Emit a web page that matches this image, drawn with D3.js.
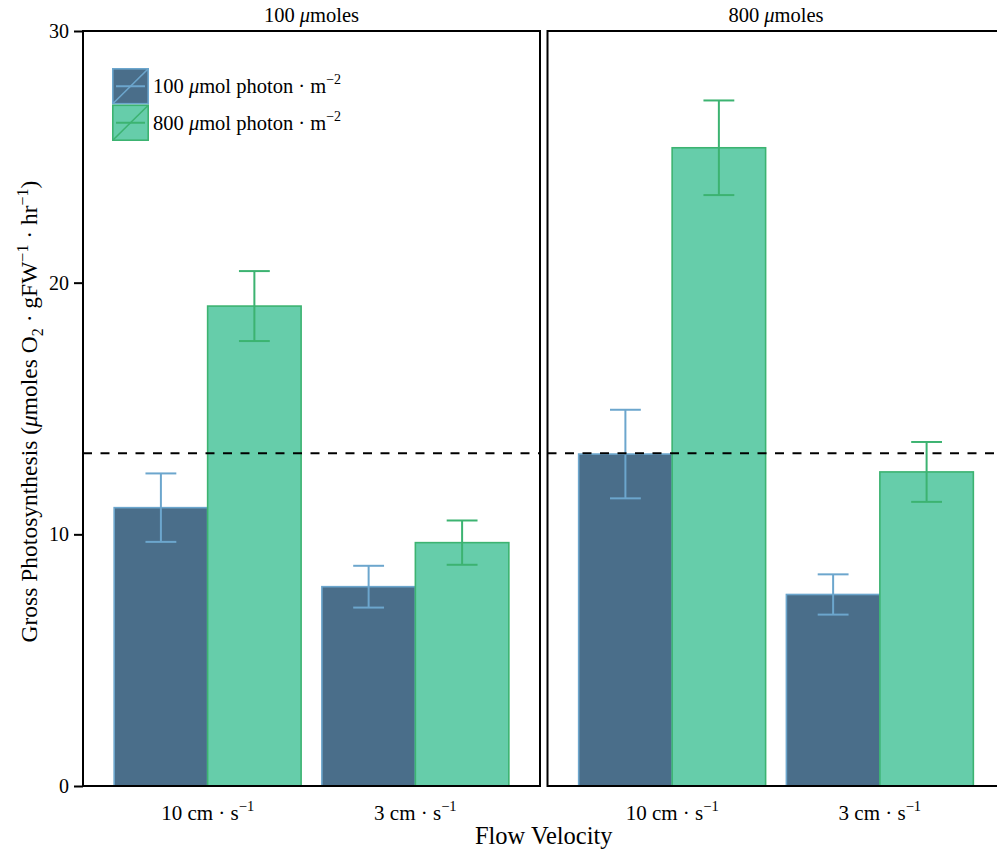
<!DOCTYPE html>
<html>
<head>
<meta charset="utf-8">
<script src="https://cdn.jsdelivr.net/npm/d3@7"></script>
<style>
  body { margin: 0; background: #fff; }
  svg text { font-family: "Liberation Serif", "DejaVu Serif", serif; fill: #000; }
</style>
</head>
<body>
<div id="chart"></div>
<script>
// Values (bars = mean, whiskers = mean ± se).
const panels = ["100", "800"];            // facet: light level of the panel
const flows = ["10", "3"];                // flow velocity, cm · s^-1
const lights = ["100", "800"];            // fill: µmol photon · m^-2
// order inside each array: flow 10 / light 100, flow 10 / light 800, flow 3 / light 100, flow 3 / light 800
const mean100 = [11.06, 19.07, 7.92, 9.67];
const se100 = [1.36, 1.39, 0.83, 0.88];
const mean800 = [13.19, 25.36, 7.61, 12.48];
const se800 = [1.76, 1.88, 0.80, 1.19];
const refLine = 13.22;
const yTicks = [0, 10, 20, 30];

const fills = { "100": "#4a6e8a", "800": "#66cdaa" };
const strokes = { "100": "#6ca6cd", "800": "#3cb371" };

const width = 997, height = 853;
const panelW = 457, panelGap = 7.5;
const margin = { left: 83, top: 31 };
const plotH = 755;

const svg = d3.select("#chart").append("svg")
    .attr("width", width)
    .attr("height", height);

const y = d3.scaleLinear().domain([0, 30]).range([plotH, 0]);
const x = d3.scaleBand().domain(flows).range([0, panelW])
    .paddingInner(0.1).paddingOuter(0.15);
const xSub = d3.scaleBand().domain(lights).range([0, x.bandwidth()]);

const tableFor = (means, ses) => {
    let rows = [];
    flows.forEach((f, i) => lights.forEach((l, j) => {
        rows.push({ flow: f, light: l, mean: means[i * 2 + j], se: ses[i * 2 + j] });
    }));
    return rows;
};
const panelData = { "100": tableFor(mean100, se100), "800": tableFor(mean800, se800) };

panels.forEach((p, pi) => {
    const g = svg.append("g")
        .attr("transform", `translate(${margin.left + pi * (panelW + panelGap)},${margin.top})`);

    const rows = panelData[p];

    // bars
    g.selectAll(".bar")
        .data(rows)
        .enter()
        .append("rect")
        .attr("x", d => x(d.flow) + xSub(d.light))
        .attr("y", d => y(d.mean))
        .attr("width", xSub.bandwidth())
        .attr("height", d => y(0) - y(d.mean))
        .attr("fill", d => fills[d.light])
        .attr("stroke", d => strokes[d.light])
        .attr("stroke-width", 1.6);

    // error bars
    const cap = xSub.bandwidth() * 0.33;
    const eb = g.selectAll(".eb")
        .data(rows)
        .enter()
        .append("g")
        .attr("stroke", d => strokes[d.light])
        .attr("stroke-width", 2);
    const cx = d => x(d.flow) + xSub(d.light) + xSub.bandwidth() / 2;
    eb.append("line")
        .attr("x1", cx).attr("x2", cx)
        .attr("y1", d => y(d.mean + d.se)).attr("y2", d => y(d.mean - d.se));
    eb.append("line")
        .attr("x1", d => cx(d) - cap / 2).attr("x2", d => cx(d) + cap / 2)
        .attr("y1", d => y(d.mean + d.se)).attr("y2", d => y(d.mean + d.se));
    eb.append("line")
        .attr("x1", d => cx(d) - cap / 2).attr("x2", d => cx(d) + cap / 2)
        .attr("y1", d => y(d.mean - d.se)).attr("y2", d => y(d.mean - d.se));

    // reference line
    g.append("line")
        .attr("x1", 0).attr("x2", panelW)
        .attr("y1", y(refLine)).attr("y2", y(refLine))
        .attr("stroke", "#000")
        .attr("stroke-width", 2)
        .attr("stroke-dasharray", "9,8.5");

    // panel border
    g.append("rect")
        .attr("x", 0).attr("y", 0)
        .attr("width", panelW).attr("height", plotH)
        .attr("fill", "none")
        .attr("stroke", "#000")
        .attr("stroke-width", 2);

    // strip label
    const strip = g.append("text")
        .attr("x", panelW / 2).attr("y", -9)
        .attr("text-anchor", "middle")
        .attr("font-size", 20.5);
    strip.append("tspan").text(p + " ");
    strip.append("tspan").attr("font-style", "italic").text("μ");
    strip.append("tspan").text("moles");

    // x tick labels
    flows.forEach(f => {
        const t = g.append("text")
            .attr("x", x(f) + x.bandwidth() / 2)
            .attr("y", plotH + 34)
            .attr("text-anchor", "middle")
            .attr("font-size", 21);
        t.append("tspan").text(f + " cm · s");
        t.append("tspan").attr("dy", -9).attr("font-size", 14.5).text("−1");
    });

    // y axis only on the first panel
    if (pi === 0) {
        const axis = g.append("g")
            .call(d3.axisLeft(y).tickValues(yTicks).tickSize(9).tickPadding(5));
        axis.select(".domain").remove();
        axis.selectAll(".tick line").attr("stroke", "#000").attr("stroke-width", 2);
        axis.selectAll(".tick text")
            .attr("font-family", "Liberation Serif")
            .attr("font-size", 20)
            .attr("fill", "#000");
    }
});

// axis titles
svg.append("text")
    .attr("x", margin.left + (2 * panelW + panelGap) / 2)
    .attr("y", 844)
    .attr("text-anchor", "middle")
    .attr("font-size", 24.5)
    .text("Flow Velocity");

const yt = svg.append("text")
    .attr("transform", `translate(37,${margin.top + plotH / 2 + 3}) rotate(-90)`)
    .attr("text-anchor", "middle")
    .attr("font-size", 23.5);
yt.append("tspan").text("Gross Photosynthesis (");
yt.append("tspan").attr("font-style", "italic").text("μ");
yt.append("tspan").text("moles O");
yt.append("tspan").attr("dy", 6).attr("font-size", 16).text("2");
yt.append("tspan").attr("dy", -6).text(" · gFW");
yt.append("tspan").attr("dy", -9).attr("font-size", 16).text("−1");
yt.append("tspan").attr("dy", 9).text(" · hr");
yt.append("tspan").attr("dy", -9).attr("font-size", 16).text("−1");
yt.append("tspan").attr("dy", 9).text(")");

// legend
const legend = svg.append("g").attr("transform", "translate(112,68)");
const keyH = 36.5, keyW = 37;
lights.forEach((l, i) => {
    const k = legend.append("g").attr("transform", `translate(0,${i * keyH})`);
    k.append("rect")
        .attr("x", 0.8).attr("y", 0.8)
        .attr("width", keyW - 1.6).attr("height", keyH - 1.6)
        .attr("fill", fills[l])
        .attr("stroke", strokes[l])
        .attr("stroke-width", 1.6);
    k.append("line")
        .attr("x1", 4).attr("x2", keyW - 4)
        .attr("y1", keyH / 2).attr("y2", keyH / 2)
        .attr("stroke", strokes[l]).attr("stroke-width", 2);
    k.append("line")
        .attr("x1", 1).attr("x2", keyW - 1)
        .attr("y1", keyH - 1).attr("y2", 1)
        .attr("stroke", strokes[l]).attr("stroke-width", 1.6);
    const t = k.append("text")
        .attr("x", keyW + 4)
        .attr("y", keyH / 2 + 7)
        .attr("font-size", 20.5);
    t.append("tspan").text(l + " ");
    t.append("tspan").attr("font-style", "italic").text("μ");
    t.append("tspan").text("mol photon · m");
    t.append("tspan").attr("dy", -9).attr("font-size", 14).text("−2");
});
</script>
</body>
</html>
